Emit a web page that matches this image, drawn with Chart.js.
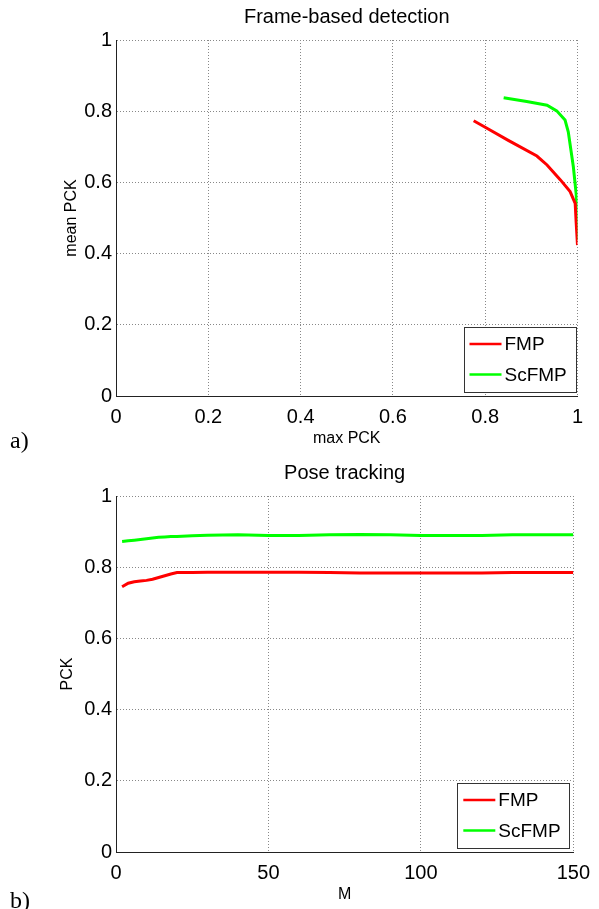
<!DOCTYPE html>
<html>
<head>
<meta charset="utf-8">
<script src="https://cdn.jsdelivr.net/npm/chart.js@4.4.1/dist/chart.umd.min.js"></script>
<style>
  html, body { margin: 0; padding: 0; background: #fff; }
  body { width: 599px; height: 909px; position: relative; overflow: hidden; }
  .wrap { position: absolute; left: 0; width: 599px; }
  canvas { display: block; }
  .lbl { position: absolute; left: 10px; font-family: "Liberation Serif", "Times New Roman", serif; font-size: 24px; line-height: 24px; color: #000; }
</style>
</head>
<body>
<div class="wrap" style="top:0;height:455px"><canvas id="c1" width="599" height="455"></canvas></div>
<div class="wrap" style="top:455px;height:454px"><canvas id="c2" width="599" height="454"></canvas></div>
<div class="lbl" style="top:428px">a)</div>
<div class="lbl" style="top:888px">b)</div>
<script>
// ---- Data: (a) Frame-based detection ----
const seriesNames = ['FMP', 'ScFMP'];
const fmpMaxPck  = [0.775, 0.80, 0.85, 0.912, 0.934, 0.963, 0.984, 0.995, 0.997, 1.0];
const fmpMeanPck = [0.773, 0.755, 0.718, 0.674, 0.649, 0.607, 0.574, 0.541, 0.490, 0.424];
const scMaxPck   = [0.840, 0.89, 0.934, 0.955, 0.973, 0.980, 0.991, 0.997, 1.0, 1.0];
const scMeanPck  = [0.838, 0.827, 0.817, 0.801, 0.775, 0.742, 0.644, 0.569, 0.504, 0.438];
const ticksA = [0, 0.2, 0.4, 0.6, 0.8, 1];

// ---- Data: (b) Pose tracking ----
const mValues  = [2, 4, 6, 8, 10, 12, 14, 16, 18, 20, 25, 30, 40, 50, 60, 70, 80, 90, 100, 110, 120, 130, 140, 150];
const fmpTrack = [0.745, 0.755, 0.759, 0.761, 0.763, 0.766, 0.771, 0.776, 0.781, 0.785, 0.785, 0.786, 0.786, 0.786, 0.786, 0.785, 0.784, 0.784, 0.784, 0.784, 0.784, 0.785, 0.785, 0.785];
const scTrack  = [0.872, 0.874, 0.876, 0.878, 0.880, 0.882, 0.884, 0.885, 0.886, 0.886, 0.888, 0.890, 0.891, 0.889, 0.889, 0.891, 0.892, 0.891, 0.889, 0.889, 0.889, 0.891, 0.891, 0.891];
const ticksBx = [0, 50, 100, 150];
const ticksBy = [0, 0.2, 0.4, 0.6, 0.8, 1];

const colors = ['#ff0000', '#00ff00'];
const FONT = '"Liberation Sans", Arial, Helvetica, sans-serif';

function pts(xs, ys) { return xs.map((x, i) => ({ x: x, y: ys[i] })); }

const boxLegend = {
  id: 'boxLegend',
  afterDatasetsDraw(chart, args, opts) {
    const ctx = chart.ctx, ca = chart.chartArea;
    const w = opts.width, h = opts.height;
    const x0 = ca.right - opts.right - w, y0 = ca.bottom - opts.bottom - h;
    ctx.save();
    ctx.fillStyle = '#fff';
    ctx.fillRect(x0, y0, w, h);
    ctx.strokeStyle = '#333';
    ctx.lineWidth = 1;
    ctx.strokeRect(Math.round(x0) + 0.5, Math.round(y0) + 0.5, Math.round(w), Math.round(h));
    ctx.font = '19px ' + FONT;
    ctx.textBaseline = 'middle';
    ctx.fillStyle = '#000';
    chart.data.datasets.forEach((ds, i) => {
      const yy = y0 + 17 + i * 30.5;
      ctx.strokeStyle = ds.borderColor;
      ctx.lineWidth = 2.5;
      ctx.beginPath();
      ctx.moveTo(x0 + 6, yy);
      ctx.lineTo(x0 + 38, yy);
      ctx.stroke();
      ctx.fillText(ds.label, x0 + 41, yy + 1);
    });
    ctx.restore();
  }
};

function makeChart(id, datasets, cfg) {
  return new Chart(document.getElementById(id), {
    type: 'scatter',
    data: { datasets: datasets },
    plugins: [boxLegend],
    options: {
      responsive: false,
      animation: false,
      events: [],
      layout: { padding: { left: 0, right: cfg.padRight, top: 0, bottom: cfg.padBottom } },
      elements: { point: { radius: 0 }, line: { tension: 0, borderWidth: 3 } },
      plugins: {
        legend: { display: false },
        tooltip: { enabled: false },
        title: { display: false },
        boxLegend: { width: 112, height: 65, right: cfg.legRight, bottom: 4 }
      },
      scales: {
        xTop: {
          type: 'linear', position: 'top', axis: 'x', min: cfg.xMin, max: cfg.xMax,
          afterFit: (s) => { s.height = cfg.topH; },
          grid: { display: false, drawOnChartArea: false, drawTicks: false },
          border: { display: false },
          ticks: { display: false },
          title: { display: true, text: cfg.title, color: '#000',
                   font: { family: FONT, size: 20, weight: 'normal' }, padding: { top: cfg.titleTop, bottom: 0 } }
        },
        x: {
          type: 'linear', position: 'bottom', min: cfg.xMin, max: cfg.xMax,
          afterBuildTicks: (s) => { s.ticks = cfg.xTicks.map(v => ({ value: v })); },
          afterFit: (s) => { s.height = 52; },
          grid: { color: '#888', drawTicks: false, lineWidth: 1 },
          border: { display: true, color: '#222', width: 1, dash: [1, 2] },
          ticks: { color: '#000', font: { family: FONT, size: 20 }, padding: 9, maxRotation: 0,
                   callback: (v) => String(v) },
          title: { display: true, text: cfg.xTitle, color: '#000', font: { family: FONT, size: 16 }, padding: 0 }
        },
        y: {
          type: 'linear', min: 0, max: 1,
          afterBuildTicks: (s) => { s.ticks = cfg.yTicks.map(v => ({ value: v })); },
          afterFit: (s) => { s.width = 116; },
          grid: { color: '#888', drawTicks: false, lineWidth: 1 },
          border: { display: true, color: '#222', width: 1, dash: [1, 2] },
          ticks: { color: '#000', font: { family: FONT, size: 20 }, padding: 4,
                   callback: (v) => String(v) },
          title: { display: true, text: cfg.yTitle, color: '#000', font: { family: FONT, size: 16 },
                   padding: { top: cfg.yTitlePad, bottom: 0 } }
        }
      }
    }
  });
}

makeChart('c1', [
  { label: seriesNames[0], data: pts(fmpMaxPck, fmpMeanPck), showLine: true, borderColor: colors[0], backgroundColor: colors[0] },
  { label: seriesNames[1], data: pts(scMaxPck, scMeanPck), showLine: true, borderColor: colors[1], backgroundColor: colors[1] }
], { title: 'Frame-based detection', titleTop: 5, topH: 40, xTitle: 'max PCK', yTitle: 'mean PCK', yTitlePad: 62,
     xMin: 0, xMax: 1, xTicks: ticksA, yTicks: ticksA, padRight: 21.5, padBottom: 7, legRight: 2 });

makeChart('c2', [
  { label: seriesNames[0], data: pts(mValues, fmpTrack), showLine: true, borderColor: colors[0], backgroundColor: colors[0] },
  { label: seriesNames[1], data: pts(mValues, scTrack), showLine: true, borderColor: colors[1], backgroundColor: colors[1] }
], { title: 'Pose tracking', titleTop: 6, topH: 41, xTitle: 'M', yTitle: 'PCK', yTitlePad: 58,
     xMin: 0, xMax: 150, xTicks: ticksBx, yTicks: ticksBy, padRight: 18.5, padBottom: 5, legRight: 4 });
</script>
</body>
</html>
